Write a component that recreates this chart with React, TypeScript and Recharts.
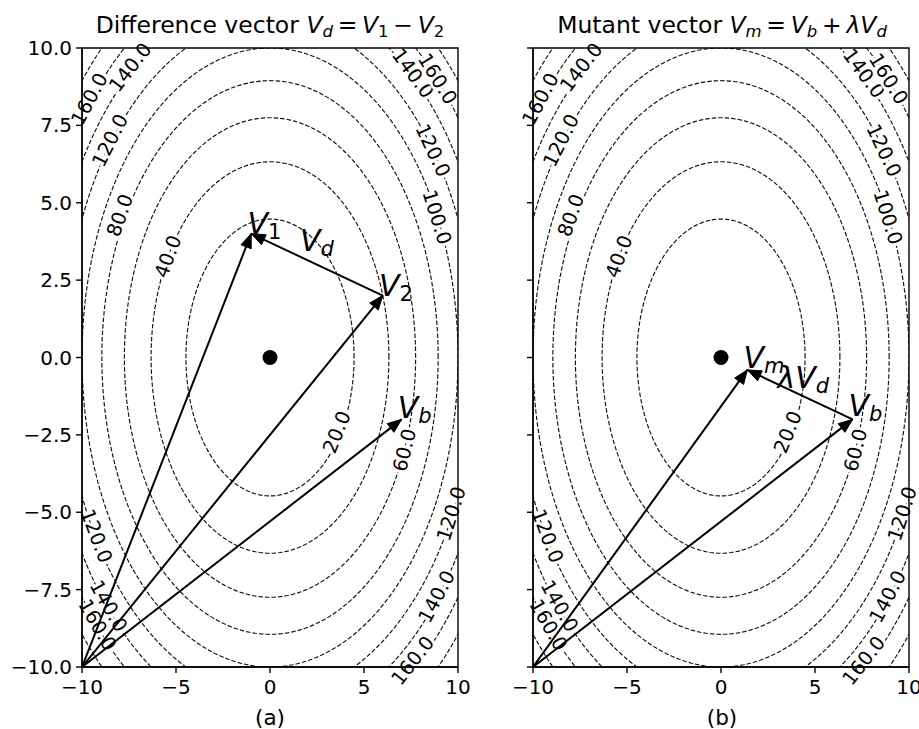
import React from 'react';
import { ComposedChart, Line, XAxis, YAxis, ReferenceArea, ReferenceDot } from 'recharts';

const FONT = '"DejaVu Sans", "Liberation Sans", sans-serif';

// contour levels of f(x, y) = x^2 + y^2
const contourLevels = [20, 40, 60, 80, 100, 120, 140, 160, 180];
const xTicks = [-10, -5, 0, 5, 10];
const yTicks = [-10, -7.5, -5, -2.5, 0, 2.5, 5, 7.5, 10];

const contourLabels = [
  { x: 3.56, y: -2.41, text: '20.0' },
  { x: -5.42, y: 3.26, text: '40.0' },
  { x: 7.17, y: -2.99, text: '60.0' },
  { x: -7.97, y: 4.59, text: '80.0' },
  { x: 8.87, y: 4.53, text: '100.0' },
  { x: -8.5, y: 7.01, text: '120.0' },
  { x: 8.66, y: 6.69, text: '120.0' },
  { x: -7.43, y: 9.37, text: '140.0' },
  { x: 7.59, y: 9.18, text: '140.0' },
  { x: -9.6, y: 8.35, text: '160.0' },
  { x: 8.9, y: 9.0, text: '160.0' },
  { x: -9.24, y: -5.77, text: '120.0' },
  { x: -8.6, y: -8.03, text: '140.0' },
  { x: -9.19, y: -8.64, text: '160.0' },
  { x: 9.65, y: -5.05, text: '120.0' },
  { x: 8.87, y: -7.73, text: '140.0' },
  { x: 7.6, y: -9.8, text: '160.0' },
];

const origin = { x: -10, y: -10 };
const v1 = { x: -1, y: 4 };
const v2 = { x: 6, y: 2 };
const vb = { x: 7, y: -2 };
const vm = { x: 1.4, y: -0.4 };
const optimum = { x: 0, y: 0 };

const arrowsA = [
  [origin, v1],
  [origin, v2],
  [origin, vb],
  [v2, v1],
];
const arrowsB = [
  [origin, vm],
  [origin, vb],
  [vb, vm],
];

const labelsA = [
  { x: -1.2, y: 4.0, pre: '', sub: '1', subItalic: false },
  { x: 1.6, y: 3.45, pre: '', sub: 'd', subItalic: true },
  { x: 5.8, y: 2.0, pre: '', sub: '2', subItalic: false },
  { x: 6.8, y: -1.95, pre: '', sub: 'b', subItalic: true },
];
const labelsB = [
  { x: 1.2, y: -0.33, pre: '', sub: 'm', subItalic: true },
  { x: 3.0, y: -0.97, pre: 'λ', sub: 'd', subItalic: true },
  { x: 6.78, y: -1.88, pre: '', sub: 'b', subItalic: true },
];

const PLOT_W = 376;
const PLOT_H = 619;
const KX = PLOT_W / 20;
const KY = PLOT_H / 20;

const STEPS = Array.from({ length: 361 }, (_, i) => i);
const contours = contourLevels.map((lvl) => {
  const r = Math.sqrt(lvl);
  return {
    level: lvl,
    points: STEPS.map((i) => {
      const t = (i / 360) * 2 * Math.PI;
      return { x: r * Math.cos(t), y: r * Math.sin(t) };
    }),
  };
});

const fmtX = (v: number) => String(v).replace('-', '\u2212');
const fmtY = (v: number) => v.toFixed(1).replace('-', '\u2212');
const fmtNone = () => '';

function ContourText({ cx, cy, label }: any) {
  if (cx == null || cy == null) return null;
  const dxp = -label.y * KX;
  const dyp = -label.x * KY;
  let a = (Math.atan2(dyp, dxp) * 180) / Math.PI;
  if (a > 90) a -= 180;
  if (a < -90) a += 180;
  return (
    <text
      x={cx}
      y={cy}
      transform={`rotate(${a} ${cx} ${cy})`}
      textAnchor="middle"
      dominantBaseline="central"
      fontSize={19.5}
      fontFamily={FONT}
      fill="#000"
      stroke="#fff"
      strokeWidth={6}
      paintOrder="stroke"
      strokeLinejoin="round"
    >
      {label.text}
    </text>
  );
}

function MathLabel({ cx, cy, label }: any) {
  if (cx == null || cy == null) return null;
  return (
    <text x={cx} y={cy} fontSize={30} fontFamily={FONT} fill="#000" style={{ whiteSpace: 'pre' }}>
      {label.pre ? <tspan fontStyle="italic">{label.pre}</tspan> : null}
      <tspan fontStyle="italic">V</tspan>
      <tspan fontSize={21} dy={5} fontStyle={label.subItalic ? 'italic' : 'normal'}>
        {label.sub}
      </tspan>
    </text>
  );
}

const makeArrowDot = (from: any, to: any) => (props: any) => {
  const { cx, cy, index } = props;
  if (index !== 1 || cx == null || cy == null) return <g key={`d-${index}`} />;
  const dx = (to.x - from.x) * KX;
  const dy = -(to.y - from.y) * KY;
  const len = Math.hypot(dx, dy);
  const ux = dx / len;
  const uy = dy / len;
  const L = 14;
  const Wd = 5.5;
  const bx = cx - ux * L;
  const by = cy - uy * L;
  const pts = `${cx},${cy} ${bx - uy * Wd},${by + ux * Wd} ${bx + uy * Wd},${by - ux * Wd}`;
  return <polygon key={`d-${index}`} points={pts} fill="#000" stroke="#000" strokeWidth={1} />;
};

function Panel({ width, yAxisWidth, marginRight, showYLabels, arrows, labels }: any) {
  return (
    <ComposedChart width={width} height={729} margin={{ top: 48, right: marginRight, bottom: 32, left: 0 }}>
      <XAxis
        type="number"
        dataKey="x"
        domain={[-10, 10]}
        ticks={xTicks}
        allowDataOverflow
        interval={0}
        height={30}
        tickSize={6}
        tickMargin={7}
        tick={{ fill: '#000', fontSize: 20, fontFamily: FONT }}
        axisLine={{ stroke: '#000', strokeWidth: 1.4 }}
        tickLine={{ stroke: '#000', strokeWidth: 1.4 }}
        tickFormatter={fmtX}
      />
      <YAxis
        type="number"
        dataKey="y"
        domain={[-10, 10]}
        ticks={yTicks}
        allowDataOverflow
        interval={0}
        width={yAxisWidth}
        tickSize={6}
        tickMargin={4}
        tick={{ fill: '#000', fontSize: 20, fontFamily: FONT }}
        axisLine={{ stroke: '#000', strokeWidth: 1.4 }}
        tickLine={{ stroke: '#000', strokeWidth: 1.4 }}
        tickFormatter={showYLabels ? fmtY : fmtNone}
      />
      {contours.map((c) => (
        <Line
          key={`c-${c.level}`}
          data={c.points}
          dataKey="y"
          type="linear"
          stroke="#111"
          strokeWidth={1.15}
          strokeDasharray="4.5 2"
          dot={false}
          activeDot={false}
          isAnimationActive={false}
          zIndex={300}
        />
      ))}
      {contourLabels.map((l, i) => (
        <ReferenceDot
          key={`cl-${i}`}
          x={l.x}
          y={l.y}
          r={1}
          zIndex={350}
          shape={(p: any) => <ContourText cx={p.cx} cy={p.cy} label={l} />}
        />
      ))}
      <ReferenceArea x1={-10} x2={10} y1={-10} y2={10} fill="none" fillOpacity={0} stroke="#000" strokeWidth={1.4} zIndex={360} />
      {arrows.map((a: any, i: number) => (
        <Line
          key={`a-${i}`}
          data={a}
          dataKey="y"
          type="linear"
          stroke="#000"
          strokeWidth={2}
          dot={makeArrowDot(a[0], a[1])}
          activeDot={false}
          isAnimationActive={false}
          zIndex={1200}
        />
      ))}
      <ReferenceDot x={optimum.x} y={optimum.y} r={7.5} fill="#000" stroke="none" zIndex={1300} />
      {labels.map((l: any, i: number) => (
        <ReferenceDot
          key={`ml-${i}`}
          x={l.x}
          y={l.y}
          r={1}
          zIndex={1300}
          shape={(p: any) => <MathLabel cx={p.cx} cy={p.cy} label={l} />}
        />
      ))}
    </ComposedChart>
  );
}

const TS = '\u2009';

export default function App() {
  return (
    <div style={{ position: 'absolute', left: 0, top: 0, width: 919, height: 729, background: '#fff', overflow: 'hidden' }}>
      <div style={{ position: 'absolute', left: 0, top: 0 }}>
        <Panel width={490} yAxisWidth={82} marginRight={32} showYLabels arrows={arrowsA} labels={labelsA} />
      </div>
      <div style={{ position: 'absolute', left: 460, top: 0 }}>
        <Panel width={459} yAxisWidth={73} marginRight={10} showYLabels={false} arrows={arrowsB} labels={labelsB} />
      </div>
      <svg width={919} height={729} style={{ position: 'absolute', left: 0, top: 0, pointerEvents: 'none' }}>
        <text x={270} y={33} textAnchor="middle" fontSize={23.5} fontFamily={FONT} fill="#000" style={{ whiteSpace: 'pre' }}>
          <tspan>Difference vector </tspan>
          <tspan fontStyle="italic">V</tspan>
          <tspan fontSize={16.5} dy={4} fontStyle="italic">d</tspan>
          <tspan dy={-4}>{`${TS}=${TS}`}</tspan>
          <tspan fontStyle="italic">V</tspan>
          <tspan fontSize={16.5} dy={4}>1</tspan>
          <tspan dy={-4}>{`${TS}−${TS}`}</tspan>
          <tspan fontStyle="italic">V</tspan>
          <tspan fontSize={16.5} dy={4}>2</tspan>
        </text>
        <text x={722} y={33} textAnchor="middle" fontSize={23.5} fontFamily={FONT} fill="#000" style={{ whiteSpace: 'pre' }}>
          <tspan>Mutant vector </tspan>
          <tspan fontStyle="italic">V</tspan>
          <tspan fontSize={16.5} dy={4} fontStyle="italic">m</tspan>
          <tspan dy={-4}>{`${TS}=${TS}`}</tspan>
          <tspan fontStyle="italic">V</tspan>
          <tspan fontSize={16.5} dy={4} fontStyle="italic">b</tspan>
          <tspan dy={-4}>{`${TS}+${TS}`}</tspan>
          <tspan fontStyle="italic">λV</tspan>
          <tspan fontSize={16.5} dy={4} fontStyle="italic">d</tspan>
        </text>
        <text x={270} y={725} textAnchor="middle" fontSize={21.5} fontFamily={FONT} fill="#000">(a)</text>
        <text x={722} y={725} textAnchor="middle" fontSize={21.5} fontFamily={FONT} fill="#000">(b)</text>
      </svg>
    </div>
  );
}
